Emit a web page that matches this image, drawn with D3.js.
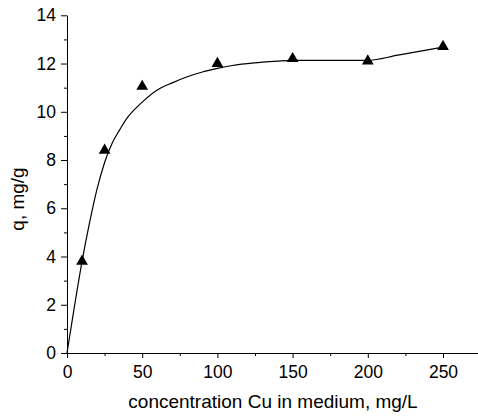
<!DOCTYPE html>
<html>
<head>
<meta charset="utf-8">
<script src="https://cdn.jsdelivr.net/npm/d3@7"></script>
<style>
  body { margin: 0; background: #fff; }
  svg { display: block; font-family: "Liberation Sans", Arial, sans-serif; }
  .axis path, .axis line { stroke: #000; }
  .axis text { font-size: 17.5px; fill: #000; }
  .label { font-size: 19px; fill: #000; }
</style>
</head>
<body>
<script>
// SVG Size
var width = 478,
    height = 419;

// Measured points
var concentration = [10, 25, 50, 100, 150, 200, 250];
var uptake = [3.8, 8.4, 11.05, 12.0, 12.2, 12.1, 12.7];

// Fitted curve
var curveX = [0, 5, 10, 15, 20, 25, 30, 35, 40, 45, 50, 60, 70, 80, 90, 100, 110, 125, 140, 150, 200, 220, 250];
var curveY = [0, 1.95, 3.8, 5.4, 6.8, 7.9, 8.7, 9.25, 9.75, 10.1, 10.4, 10.9, 11.2, 11.45, 11.65, 11.8, 11.92, 12.03, 12.1, 12.13, 12.13, 12.35, 12.68];

// Tick values
var xTicks = [0, 50, 100, 150, 200, 250];
var xMinor = [25, 75, 125, 175, 225, 275];
var yTicks = [0, 2, 4, 6, 8, 10, 12, 14];
var yMinor = [1, 3, 5, 7, 9, 11, 13];

var svg = d3.select("body").append("svg")
  .attr("width", width)
  .attr("height", height);

// Set up scales
var xScale = d3.scaleLinear()
  .domain([0, 275])
  .range([67, 67 + 275 * 1.504]);
var yScale = d3.scaleLinear()
  .domain([0, 14])
  .range([353, 15.3]);

// Minor ticks first, then main axes
svg.append("g")
  .attr("class", "axis")
  .attr("transform", "translate(0,353)")
  .call(d3.axisBottom(xScale).tickValues(xMinor).tickSize(3).tickSizeOuter(0).tickFormat(""));
svg.append("g")
  .attr("class", "axis")
  .attr("transform", "translate(67,0)")
  .call(d3.axisLeft(yScale).tickValues(yMinor).tickSize(3).tickSizeOuter(0).tickFormat(""));

svg.append("g")
  .attr("class", "axis")
  .attr("transform", "translate(0,353)")
  .call(d3.axisBottom(xScale).tickValues(xTicks).tickSize(5).tickPadding(8).tickSizeOuter(0));
svg.append("g")
  .attr("class", "axis")
  .attr("transform", "translate(67,0)")
  .call(d3.axisLeft(yScale).tickValues(yTicks).tickSize(6).tickPadding(5).tickSizeOuter(0));

// Axis labels
svg.append("text")
  .attr("class", "label")
  .attr("text-anchor", "middle")
  .attr("x", 273)
  .attr("y", 408)
  .text("concentration Cu in medium, mg/L");

svg.append("text")
  .attr("class", "label")
  .attr("text-anchor", "middle")
  .attr("transform", "translate(23.5,199) rotate(-90)")
  .text("q, mg/g");

// Fitted curve
var line = d3.line()
  .x(function(d, i) { return xScale(curveX[i]); })
  .y(function(d, i) { return yScale(curveY[i]); })
  .curve(d3.curveMonotoneX);

svg.append("path")
  .datum(curveX)
  .attr("d", line)
  .attr("fill", "none")
  .attr("stroke", "#000")
  .attr("stroke-width", 1.2);

// Plot points
svg.selectAll(".pt")
  .data(concentration)
  .enter()
  .append("path")
  .attr("class", "pt")
  .attr("d", d3.symbol().type(d3.symbolTriangle).size(60))
  .attr("fill", "#000")
  .attr("transform", function(d, i) {
    return "translate(" + xScale(d) + "," + yScale(uptake[i]) + ")";
  });
</script>
</body>
</html>
